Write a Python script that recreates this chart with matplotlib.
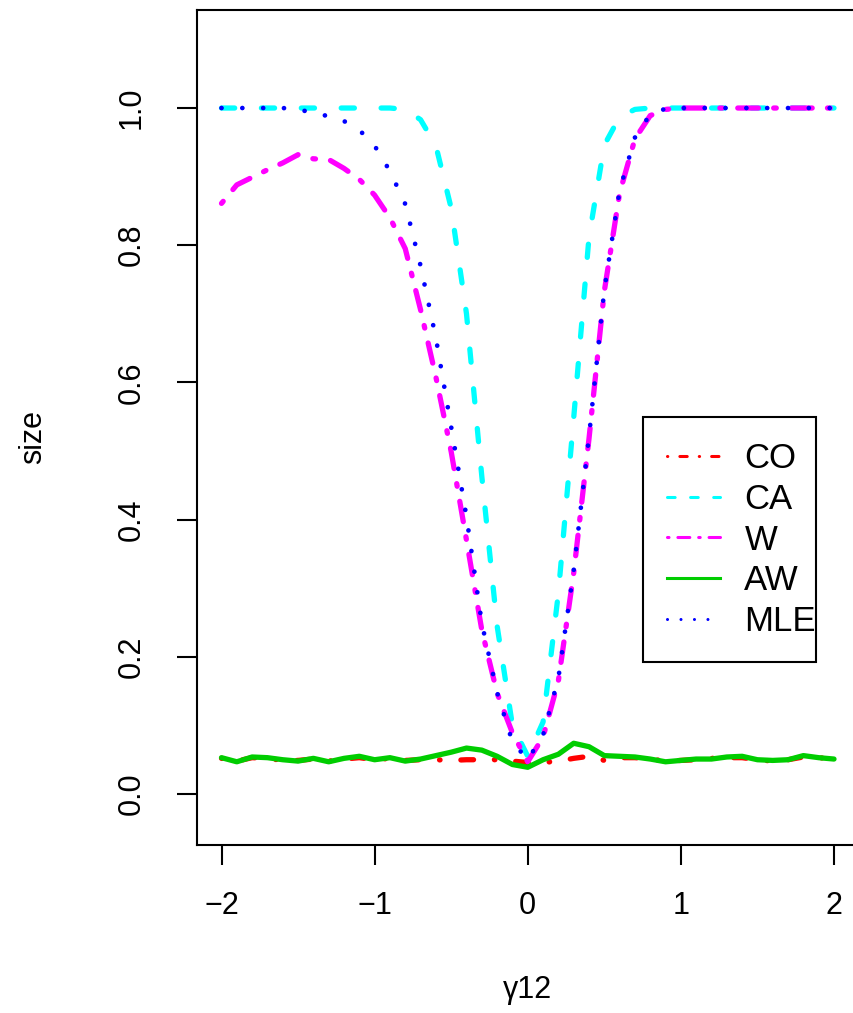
import matplotlib
matplotlib.use("Agg")
import matplotlib.pyplot as plt
from matplotlib.lines import Line2D
from matplotlib.patches import Rectangle

plt.rcParams['font.family'] = ['Liberation Sans', 'DejaVu Sans']

# gamma12 grid
gamma = [-2.0, -1.9, -1.8, -1.7, -1.6, -1.5, -1.4, -1.3, -1.2, -1.1,
         -1.0, -0.9, -0.8, -0.7, -0.6, -0.5, -0.4, -0.3, -0.2, -0.1,
         0.0, 0.1, 0.2, 0.3, 0.4, 0.5, 0.6, 0.7, 0.8, 0.9,
         1.0, 1.1, 1.2, 1.3, 1.4, 1.5, 1.6, 1.7, 1.8, 1.9, 2.0]

size_co = [0.052, 0.048, 0.053, 0.052, 0.049, 0.049, 0.051, 0.048, 0.051, 0.053,
           0.050, 0.052, 0.049, 0.050, 0.050, 0.049, 0.050, 0.050, 0.050, 0.048,
           0.046, 0.046, 0.048, 0.052, 0.055, 0.049, 0.053, 0.053, 0.051, 0.048,
           0.049, 0.050, 0.052, 0.053, 0.053, 0.050, 0.048, 0.050, 0.054, 0.053, 0.051]

size_ca = [1.0, 1.0, 1.0, 1.0, 1.0, 1.0, 1.0, 1.0, 1.0, 1.0,
           1.0, 1.0, 0.998, 0.983, 0.945, 0.854, 0.700, 0.463, 0.245, 0.100,
           0.055, 0.105, 0.293, 0.548, 0.812, 0.946, 0.987, 0.998, 1.0, 1.0,
           1.0, 1.0, 1.0, 1.0, 1.0, 1.0, 1.0, 1.0, 1.0, 1.0, 1.0]

size_w = [0.861, 0.888, 0.899, 0.910, 0.920, 0.932, 0.926, 0.925, 0.912, 0.896,
          0.873, 0.840, 0.795, 0.706, 0.608, 0.499, 0.370, 0.239, 0.147, 0.089,
          0.047, 0.083, 0.165, 0.322, 0.518, 0.733, 0.876, 0.955, 0.989, 0.998,
          1.0, 1.0, 1.0, 1.0, 1.0, 1.0, 1.0, 1.0, 1.0, 1.0, 1.0]

size_aw = [0.053, 0.047, 0.054, 0.053, 0.050, 0.048, 0.052, 0.047, 0.052, 0.055,
           0.050, 0.053, 0.048, 0.051, 0.056, 0.061, 0.067, 0.064, 0.055, 0.043,
           0.039, 0.050, 0.058, 0.074, 0.069, 0.056, 0.055, 0.054, 0.051, 0.047,
           0.049, 0.051, 0.051, 0.054, 0.055, 0.050, 0.049, 0.050, 0.056, 0.053, 0.051]

size_mle = [1.0, 1.0, 1.0, 1.0, 1.0, 0.998, 0.993, 0.988, 0.981, 0.968,
            0.945, 0.908, 0.860, 0.770, 0.665, 0.535, 0.404, 0.249, 0.148, 0.076,
            0.050, 0.086, 0.169, 0.326, 0.521, 0.735, 0.880, 0.957, 0.991, 0.999,
            1.0, 1.0, 1.0, 1.0, 1.0, 1.0, 1.0, 1.0, 1.0, 1.0, 1.0]

labels = ["CO", "CA", "W", "AW", "MLE"]
colors = ["#FF0000", "#00FFFF", "#FF00FF", "#00CD00", "#0000FF"]
# dash patterns in units of line width (R lty 4, 2, 6, 1, 3)
styles = [(0, (0.1, 3.95, 2.4, 3.95)),
          (0, (2.5, 5.06)),
          (0, (0.5, 2.9, 3.9, 2.9)),
          "-",
          (0, (0.01, 4.4))]
widths = [3.8, 3.8, 3.8, 3.8, 3.4]
series = [size_co, size_ca, size_w, size_aw, size_mle]

W, H = 854, 1013
fig = plt.figure(figsize=(W / 100, H / 100), dpi=100)
ax = fig.add_axes([197 / W, (H - 845) / H, (858.5 - 197) / W, (845 - 10) / H])

for vals, c, ls, lw in zip(series, colors, styles, widths):
    ax.plot(gamma, vals, color=c, linestyle=ls, lw=lw,
            dash_capstyle="round", solid_capstyle="round", solid_joinstyle="round")

ax.set_xlim(-2.16, 2.16)
ax.set_ylim(-0.0743, 1.1429)
ax.set_xticks([-2, -1, 0, 1, 2])
ax.set_xticklabels(["\u22122", "\u22121", "0", "1", "2"])
ax.set_yticks([0.0, 0.2, 0.4, 0.6, 0.8, 1.0])
ax.set_yticklabels(["0.0", "0.2", "0.4", "0.6", "0.8", "1.0"])

for sp in ax.spines.values():
    sp.set_linewidth(1.5)
ax.tick_params(axis="both", direction="out", length=14.4, width=1.5, labelsize=22)
ax.tick_params(axis="x", pad=19)
ax.tick_params(axis="y", pad=22, labelrotation=90)
for t in ax.get_yticklabels():
    t.set_va("center")

ax.set_xlabel("\u03b312", fontsize=22, va="center")
ax.xaxis.set_label_coords(0.5, (845 - 990) / 835)
ax.set_ylabel("size", fontsize=22, va="center")
ax.yaxis.set_label_coords((33 - 197) / 661.5, (845 - 437) / 835)

# legend
handles = [Line2D([], [], color=c, linestyle=ls, lw=2.2, dash_capstyle="round")
           for c, ls in zip(colors, styles)]
fig.legend(handles, labels, loc="center left",
           bbox_to_anchor=(667 / W, (H - 540) / H), frameon=False,
           fontsize=25, handlelength=1.53, handletextpad=0.7,
           labelspacing=0.22, borderpad=0.0, borderaxespad=0.0)
fig.add_artist(Rectangle((643 / W, (H - 662) / H), (816 - 643) / W, (662 - 417) / H,
                         transform=fig.transFigure, fill=False, lw=1.5,
                         edgecolor="black"))

fig.savefig("out.png", dpi=100)
